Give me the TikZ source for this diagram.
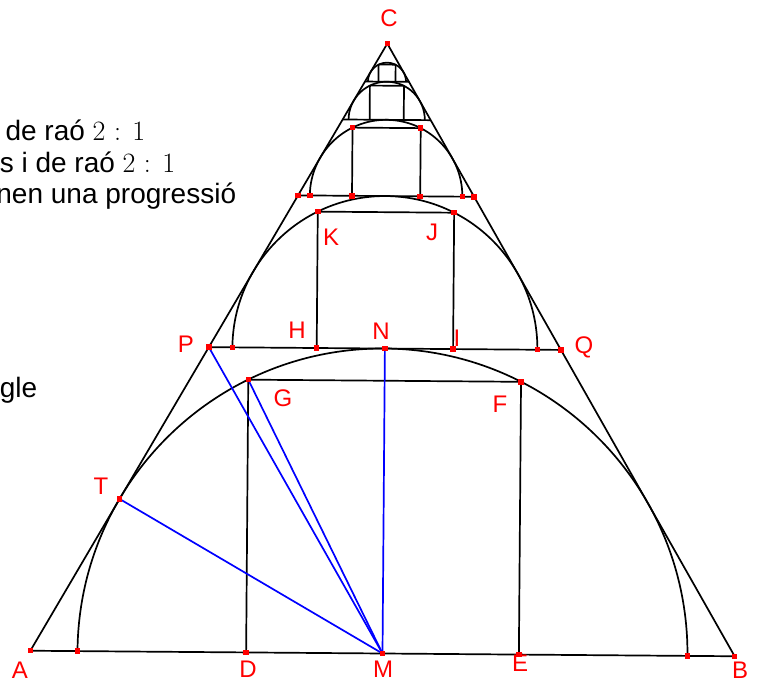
\documentclass[tikz,border=0pt]{standalone}
\usepackage{fontspec}
\setmainfont{Liberation Sans}
\newfontfamily\ratiofont{Latin Modern Roman}
\usetikzlibrary{calc}

\begin{document}
\begin{tikzpicture}[x=1pt,y=1pt,line width=1.7pt,line join=round,
  pt/.style={fill=red,inner sep=0pt,minimum size=5.5pt},
  lbl/.style={text=red,inner sep=0pt,font=\fontsize{24}{24}\selectfont},
  txt/.style={anchor=base east,inner sep=0pt,font=\fontsize{28}{32}\selectfont}]
\clip (0,0) rectangle (757,682);
% left text, cut off by the frame
\node[txt] (t1) at (146,541) {de raó {\ratiofont 2 : 1}};
\node[txt] (t2) at (176,509) {s i de raó {\ratiofont 2 : 1}};
\node[txt] (t3) at (237,478) {nen una progressió};
\node[txt] (t4) at (38,284) {gle};
\begin{scope}[shift={(382.5,28.5)},rotate=-0.45]
% big triangle, first half circle and square
\coordinate (A) at (-352.2,0);
\coordinate (B) at (352.2,0);
\coordinate (C) at (0,610);
\coordinate (M) at (0,0);
\coordinate (L0) at (-305,0);
\coordinate (R0) at (305,0);
\coordinate (D) at (-136.4,0);
\coordinate (E) at (136.4,0);
\coordinate (F) at (136.4,272.8);
\coordinate (G) at (-136.4,272.8);
\coordinate (T) at ($(A)!(M)!(C)$);
\draw (A)--(B)--(C)--cycle;
\draw (R0) arc[start angle=0,end angle=180,radius=305];
\draw (D)--(G)--(F)--(E);
% second level
\coordinate (P) at (-176.1,305);
\coordinate (Q) at (176.1,305);
\coordinate (N) at (0,305);
\coordinate (L1) at (-152.5,305);
\coordinate (R1) at (152.5,305);
\coordinate (H) at (-68.2,305);
\coordinate (I) at (68.2,305);
\coordinate (J) at (68.2,441.4);
\coordinate (K) at (-68.2,441.4);
\draw (P)--(Q);
\draw (R1) arc[start angle=0,end angle=180,radius=152.5];
\draw (H)--(K)--(J)--(I);
% third level
\coordinate (P2) at (-88.05,457.5);
\coordinate (Q2) at (88.05,457.5);
\coordinate (L2) at (-76.25,457.5);
\coordinate (R2) at (76.25,457.5);
\coordinate (S1) at (-34.1,457.5);
\coordinate (S2) at (34.1,457.5);
\coordinate (S3) at (34.1,525.7);
\coordinate (S4) at (-34.1,525.7);
\draw (P2)--(Q2);
\draw (R2) arc[start angle=0,end angle=180,radius=76.25];
\draw (S1)--(S4)--(S3)--(S2);
% last two levels
\coordinate (P3) at (-44.02,533.75);
\coordinate (Q3) at (44.02,533.75);
\coordinate (R3) at (38.125,533.75);
\draw (P3)--(Q3);
\draw (R3) arc[start angle=0,end angle=180,radius=38.125];
\draw (-17.05,533.75)--(-17.05,567.85)--(17.05,567.85)--(17.05,533.75);
\coordinate (P4) at (-22.01,571.875);
\coordinate (Q4) at (22.01,571.875);
\coordinate (R4) at (19.0625,571.875);
\draw (P4)--(Q4);
\draw (R4) arc[start angle=0,end angle=180,radius=19.0625];
\draw (-8.525,571.875)--(-8.525,588.925)--(8.525,588.925)--(8.525,571.875);
% radii
\draw[blue] (M)--(T);
\draw[blue] (M)--(P);
\draw[blue] (M)--(G);
\draw[blue] (M)--(N);
\foreach \p in {A,B,C,L0,R0,D,M,E,F,G,T,P,Q,N,L1,R1,H,I,J,K,P2,Q2,L2,R2,S1,S2,S3,S4}
  \node[pt] (m\p) at (\p) {};
\end{scope}
% labels
\node[lbl] (lA) at (20,12) {A};
\node[lbl] (lB) at (740,12) {B};
\node[lbl] (lC) at (389,664) {C};
\node[lbl] (lD) at (248,13) {D};
\node[lbl] (lM) at (383,13) {M};
\node[lbl] (lE) at (520,19) {E};
\node[lbl] (lF) at (500,278) {F};
\node[lbl] (lG) at (283,284) {G};
\node[lbl] (lH) at (297,352) {H};
\node[lbl] (lN) at (381,351) {N};
\node[lbl] (lI) at (457,344) {I};
\node[lbl] (lJ) at (432,450) {J};
\node[lbl] (lK) at (331,445) {K};
\node[lbl] (lP) at (186,338) {P};
\node[lbl] (lQ) at (584,335) {Q};
\node[lbl] (lT) at (101,196) {T};
\end{tikzpicture}
\end{document}
